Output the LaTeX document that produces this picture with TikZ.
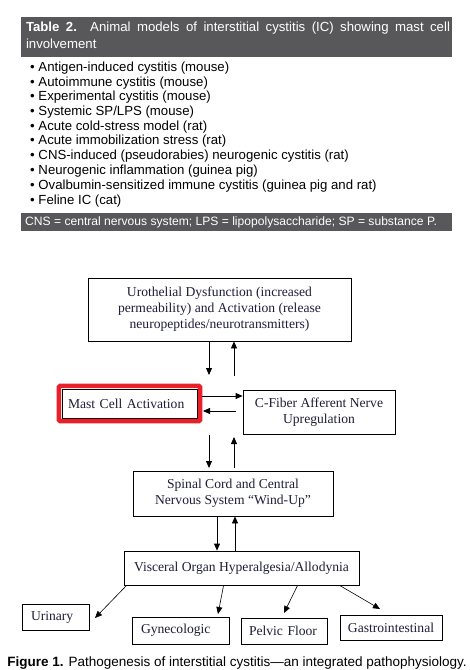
\documentclass[tikz,border=0pt]{standalone}
\usepackage{fontspec}
\setmainfont{Liberation Serif}
\newfontfamily\tabfont{Liberation Sans}
\usetikzlibrary{arrows.meta,calc}
\definecolor{hdrgray}{RGB}{88,88,90}
\definecolor{ink}{RGB}{30,30,55}
\definecolor{hlred}{RGB}{232,32,42}
\begin{document}
\begin{tikzpicture}[x=1pt,y=-1pt,
 box/.style={draw=black,line width=0.8pt,inner sep=0pt,font=\fontsize{13.6}{16}\selectfont,text=ink,align=center},
 arr/.style={line width=0.8pt,-{Triangle[length=7pt,width=6pt]}},
 item/.style={anchor=west,font=\tabfont\fontsize{13.2}{15}\selectfont,inner sep=0pt},
 bar/.style={fill=hdrgray},
]
\useasboundingbox (0,0) rectangle (470,670);
\fill[white] (0,0) rectangle (470,670);
% ---------- table ----------
\fill[bar] (21,17) rectangle (452,57);
\node[text=white,text width=424pt,align=justify,inner sep=0pt,font=\tabfont\fontsize{13.2}{16.8}\selectfont] (thead) at (238,35.5)
 {\hyphenpenalty=10000 \textbf{Table 2.} Animal models of interstitial cystitis (IC) showing mast cell \mbox{involvement}};
\node[item] (i1)  at (30,68.3)  {\textbullet\ Antigen-induced cystitis (mouse)};
\node[item] (i2)  at (30,82.9)  {\textbullet\ Autoimmune cystitis (mouse)};
\node[item] (i3)  at (30,97.5)  {\textbullet\ Experimental cystitis (mouse)};
\node[item] (i4)  at (30,112.1) {\textbullet\ Systemic SP/LPS (mouse)};
\node[item] (i5)  at (30,126.8) {\textbullet\ Acute cold-stress model (rat)};
\node[item] (i6)  at (30,141.5) {\textbullet\ Acute immobilization stress (rat)};
\node[item] (i7)  at (30,156.2) {\textbullet\ CNS-induced (pseudorabies) neurogenic cystitis (rat)};
\node[item] (i8)  at (30,171.2) {\textbullet\ Neurogenic inflammation (guinea pig)};
\node[item] (i9)  at (30,186.2) {\textbullet\ Ovalbumin-sensitized immune cystitis (guinea pig and rat)};
\node[item] (i10) at (30,201.2) {\textbullet\ Feline IC (cat)};
\fill[bar] (21,213) rectangle (452,231);
\node[item,text=white,font=\tabfont\fontsize{12.1}{14}\selectfont] (tfoot) at (25,222) {CNS = central nervous system; LPS = lipopolysaccharide; SP = substance P.};
% ---------- flowchart ----------
\node[box,minimum width=263pt,minimum height=63pt] (uro) at (219.5,309.5)
 {Urothelial Dysfunction (increased\\permeability) and Activation (release\\neuropeptides/neurotransmitters)};
\node[box,inner xsep=6pt,text width=123pt,align=left,minimum height=29pt] (mast) at (129.5,403.5) {Mast Cell Activation};
\draw[hlred,line width=4.5pt,rounded corners=1.5pt] ($(mast.north west)+(-2.8pt,2.8pt)$) rectangle ($(mast.south east)+(2.8pt,-2.8pt)$);
\node[box,minimum width=152pt,minimum height=44pt] (cfib) at (319,412) {C-Fiber Afferent Nerve\\Upregulation};
\node[box,minimum width=200pt,minimum height=45pt] (spinal) at (233,493.5) {Spinal Cord and Central\\Nervous System ``Wind-Up''};
\node[box,minimum width=235pt,minimum height=34pt] (visc) at (241.5,568) {Visceral Organ Hyperalgesia/Allodynia};
\node[box,inner xsep=9pt,text width=49pt,align=left,minimum height=26pt] (urin) at (55.5,617) {Urinary};
\node[box,inner xsep=9pt,text width=79pt,align=left,minimum height=27pt] (gyn) at (180.5,630.5) {Gynecologic};
\node[box,inner xsep=8pt,text width=70pt,align=left,minimum height=26pt] (pelv) at (284,631) {Pelvic Floor};
\node[box,minimum width=102pt,minimum height=25pt] (gastro) at (391,627.5) {Gastrointestinal};
% ---------- connectors ----------
\coordinate (c1) at (209,375);
\coordinate (c2) at (234,376);
\coordinate (c3) at (202,396);
\coordinate (c4) at (236,411);
\coordinate (c4b) at (203,411);
\coordinate (c5) at (209,435);
\coordinate (c5b) at (209,468);
\coordinate (c6) at (234,468);
\coordinate (c6b) at (234,437);
\coordinate (c7) at (217,0);
\coordinate (c8) at (235,0);
\coordinate (d1) at (95,618);
\coordinate (d2) at (218,614);
\coordinate (d3) at (284,613);
\coordinate (d4) at (380,609);
\draw[arr] (uro.south -| c1) -- (c1);
\draw[arr] (c2) -- (uro.south -| c2);
\draw[arr] (c3) -- (c3 -| cfib.west);
\draw[arr] (c4) -- (c4b);
\draw[arr] (c5) -- (c5b);
\draw[arr] (c6) -- (c6b);
\draw[arr] (spinal.south -| c7) -- (visc.north -| c7);
\draw[arr] (visc.north -| c8) -- (spinal.south -| c8);
\draw[arr,line width=0.6pt] ($(visc.south west)+(3pt,0)$) -- (d1);
\draw[arr,line width=0.6pt] ($(visc.south west)+(100pt,0)$) -- (d2);
\draw[arr,line width=0.6pt] ($(visc.south west)+(174pt,0)$) -- (d3);
\draw[arr,line width=0.6pt] ($(visc.south west)+(216pt,0)$) -- (d4);
% ---------- caption ----------
\node[inner sep=0pt,font=\tabfont\fontsize{13.5}{15}\selectfont] (cap) at (237,663)
 {\textbf{Figure 1.} Pathogenesis of interstitial cystitis—an integrated pathophysiology.};
\end{tikzpicture}
\end{document}
